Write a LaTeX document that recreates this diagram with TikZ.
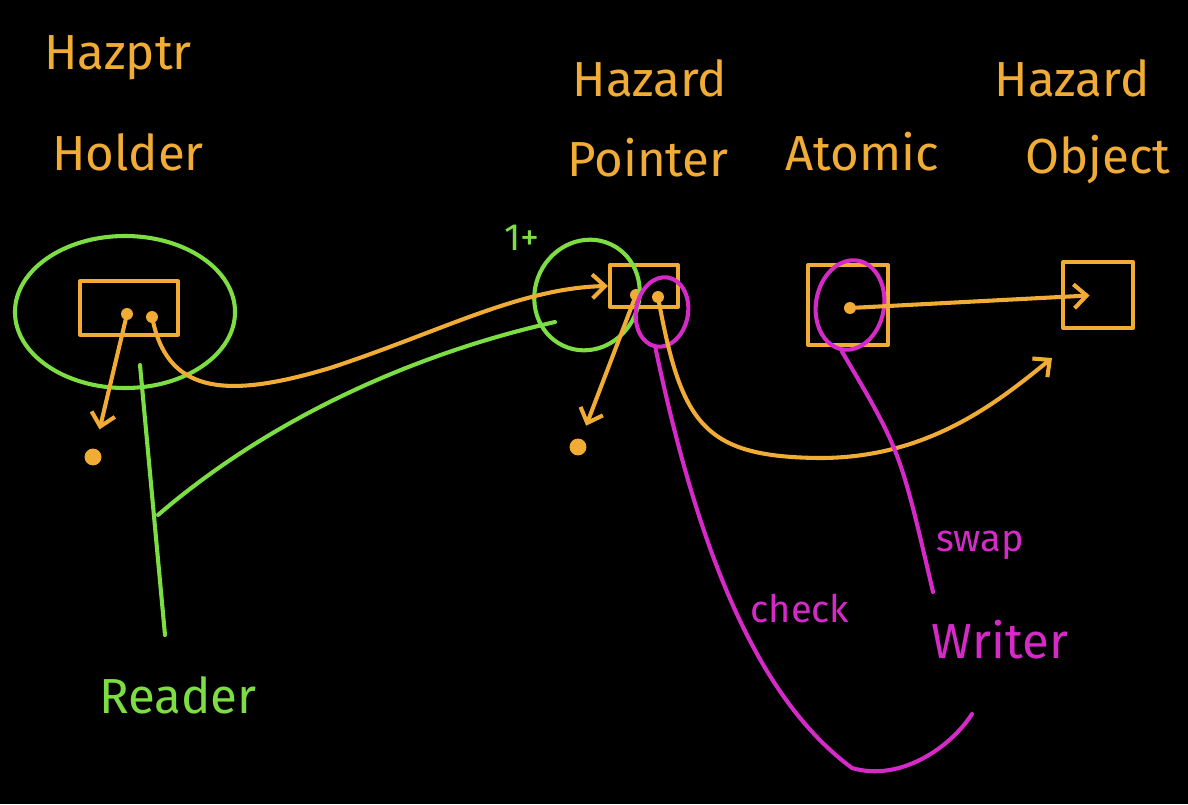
\documentclass[tikz,border=0pt]{standalone}
\usepackage{fontspec}
\setmainfont{Fira Sans}
\usetikzlibrary{arrows.meta,shapes.geometric}
\definecolor{penorange}{RGB}{240,172,52}
\definecolor{pengreen}{RGB}{125,222,68}
\definecolor{penpink}{RGB}{214,42,200}

\begin{document}
\begin{tikzpicture}[x=0.025cm,y=-0.025cm,line cap=round,line join=round,
    every node/.style={inner sep=0pt},
    ink/.style={line width=2.9pt},
    ptr/.style={ink,draw=penorange,-{Straight Barb[length=9pt,width=17pt,line width=2.9pt]}},
    big/.style={font=\fontsize{35}{40}\selectfont},
    small/.style={font=\fontsize{27}{30}\selectfont},
    cell/.style={draw=penorange,ink,shape=rectangle},
    dot/.style={shape=circle,fill=penorange,minimum size=8.5pt},
    nullptr/.style={shape=circle,fill=penorange,minimum size=12pt},
    ring/.style={shape=ellipse,ink}]
  \path[fill=black,use as bounding box] (0,0) rectangle (1188,804);

  % titles
  \node[big,text=penorange] (t1a) at (118,58) {Hazptr};
  \node[big,text=penorange] (t1b) at (128,152) {Holder};
  \node[big,text=penorange] (t2a) at (650,78) {Hazard};
  \node[big,text=penorange] (t2b) at (648,158) {Pointer};
  \node[big,text=penorange] (t3) at (862,152) {Atomic};
  \node[big,text=penorange] (t4a) at (1072,78) {Hazard};
  \node[big,text=penorange] (t4b) at (1098,160) {Object};

  % cells
  \node[cell,minimum width=2.45cm,minimum height=1.33cm] (holder) at (129,308) {};
  \node[cell,minimum width=1.7cm,minimum height=1.05cm] (hp) at (644,286) {};
  \node[cell,minimum width=2cm,minimum height=2cm] (atomic) at (848,305) {};
  \node[cell,minimum width=1.75cm,minimum height=1.65cm] (obj) at (1098,295) {};

  \node[dot] (hdotl) at (127,314) {};
  \node[dot] (hdotr) at (152,317) {};
  \node[dot] (pdotl) at (636,295) {};
  \node[dot] (pdotr) at (658,297) {};
  \node[dot] (adot) at (850,308) {};
  \node[nullptr] (hnull) at (93,457) {};
  \node[nullptr] (pnull) at (578,447) {};

  % rings
  \node[ring,draw=pengreen,minimum width=5.5cm,minimum height=3.8cm] (hring) at (125,312) {};
  \node[ring,draw=pengreen,minimum width=2.6cm,minimum height=2.8cm,rotate=-25] (pring) at (587,295) {};
  \node[ring,draw=penpink,minimum width=1.3cm,minimum height=1.75cm,rotate=-10] (chkring) at (662,312) {};
  \node[ring,draw=penpink,minimum width=1.7cm,minimum height=2.25cm,rotate=-10] (swpring) at (850,305) {};

  % other labels
  \node[small,text=pengreen] (one) at (522,238) {1+};
  \node[big,text=pengreen] (reader) at (178,695) {Reader};
  \node[small,text=penpink] (check) at (800,608) {check};
  \node[small,text=penpink] (swap) at (980,545) {swap};
  \node[big,text=penpink] (writer) at (1000,640) {Writer};

  \coordinate (readtop) at (140,365);
  \coordinate (readbot) at (165,635);
  \coordinate (readfork) at (158,515);
  \coordinate (ringin) at (555,322);
  \coordinate (objtip) at (1052,358);
  \coordinate (writerhook) at (972,714);
  \coordinate (swapend) at (933,592);

  % pointers
  \draw[ptr,shorten >=14pt] (hdotl) -- (hnull);
  \draw[ptr,shorten >=10pt] (pdotl) -- (pnull);
  \draw[ptr] (hdotr) .. controls (170,395) and (230,398) .. (330,368)
    .. controls (440,332) and (520,288) .. (hp.west);
  \draw[ptr] (pdotr) .. controls (682,425) and (705,457) .. (820,458)
    .. controls (930,458) and (1000,400) .. (objtip);
  \draw[ptr,shorten >=6pt] (adot) -- (obj.center);

  % reader
  \draw[ink,pengreen] (readtop) -- (readbot);
  \draw[ink,pengreen] (readfork) .. controls (280,410) and (430,350) .. (ringin);

  % writer
  \draw[ink,penpink] (chkring.south) .. controls (700,560) and (760,700) .. (852,768)
    .. controls (900,782) and (950,748) .. (writerhook);
  \draw[ink,penpink] (swpring.south) .. controls (900,450) .. (swapend);
\end{tikzpicture}
\end{document}
